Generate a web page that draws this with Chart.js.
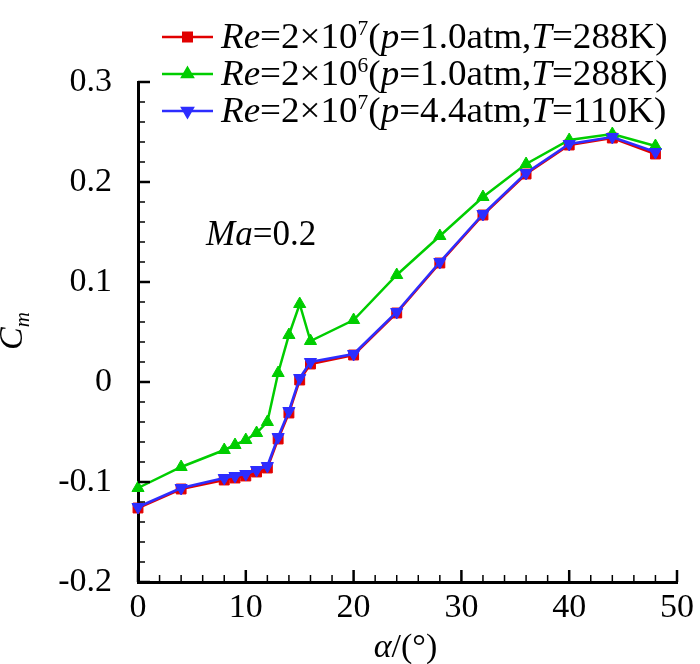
<!DOCTYPE html>
<html>
<head>
<meta charset="utf-8">
<script src="https://cdn.jsdelivr.net/npm/chart.js@4.4.1/dist/chart.umd.min.js"></script>
<style>
  html, body { margin: 0; padding: 0; background: #fff; }
  #wrap { width: 700px; height: 664px; }
</style>
</head>
<body>
<div id="wrap"><canvas id="cmCanvas" width="700" height="664"></canvas></div>
<script>
// angle of attack (deg)
const alphaDeg = [0, 4, 8, 9, 10, 11, 12, 13, 14, 15, 16, 20, 24, 28, 32, 36, 40, 44, 48];

// Cm, Re=2e7, p=1.0atm, T=288K (red)
const cmRe7Std = [-0.126, -0.107, -0.098, -0.096, -0.094, -0.090, -0.086, -0.057, -0.031, 0.002, 0.018,
  0.027, 0.069, 0.119, 0.167, 0.208, 0.237, 0.244, 0.228];
// Cm, Re=2e6, p=1.0atm, T=288K (green)
const cmRe6 = [-0.106, -0.085, -0.068, -0.063, -0.058, -0.051, -0.040, 0.009, 0.047, 0.078, 0.041,
  0.062, 0.107, 0.146, 0.185, 0.218, 0.242, 0.248, 0.236];
// Cm, Re=2e7, p=4.4atm, T=110K (blue)
const cmRe7Cryo = [-0.125, -0.106, -0.096, -0.094, -0.092, -0.088, -0.084, -0.055, -0.029, 0.004, 0.020,
  0.028, 0.070, 0.120, 0.168, 0.209, 0.238, 0.245, 0.230];

const xTickValues = [0, 10, 20, 30, 40, 50];
const yTickValues = [-0.2, -0.1, 0, 0.1, 0.2, 0.3];

// rich text pieces: [text, kind]  i = italic, n = normal, sup / isub = raised / lowered
const labelRe7Std = [["Re", "i"], ["=2×10", "n"], ["7", "sup"], ["(", "n"], ["p", "i"], ["=1.0atm,", "n"], ["T", "i"], ["=288K)", "n"]];
const labelRe6 = [["Re", "i"], ["=2×10", "n"], ["6", "sup"], ["(", "n"], ["p", "i"], ["=1.0atm,", "n"], ["T", "i"], ["=288K)", "n"]];
const labelRe7Cryo = [["Re", "i"], ["=2×10", "n"], ["7", "sup"], ["(", "n"], ["p", "i"], ["=4.4atm,", "n"], ["T", "i"], ["=110K)", "n"]];
const maLabel = [["Ma", "i"], ["=0.2", "n"]];
const xTitle = [["α", "i"], ["/(°)", "n"]];
const yTitle = [["C", "i"], ["m", "isub"]];

const FONT = "'Liberation Serif', 'Times New Roman', serif";
const RED = "rgb(225,0,0)";
const GREEN = "rgb(0,205,0)";
const BLUE = "rgb(45,45,255)";

const toPoints = (ys) => alphaDeg.map((a, i) => ({ x: a, y: ys[i] }));

// piirtää tekstin osista, palauttaa leveyden
const drawRich = (ctx, parts, x, y, size, dryRun) => {
  let cx = x;
  parts.forEach(([txt, kind]) => {
    let fs = size, dy = 0, style = "";
    if (kind === "i") style = "italic ";
    if (kind === "sup") { fs = size * 0.58; dy = -size * 0.36; }
    if (kind === "isub") { fs = size * 0.62; dy = size * 0.22; style = "italic "; }
    ctx.font = style + fs + "px " + FONT;
    if (!dryRun) ctx.fillText(txt, cx, y + dy);
    cx += ctx.measureText(txt).width;
  });
  return cx - x;
};

const legendRows = [
  { parts: labelRe7Std, color: RED, pointStyle: "rect", rotation: 0 },
  { parts: labelRe6, color: GREEN, pointStyle: "triangle", rotation: 0 },
  { parts: labelRe7Cryo, color: BLUE, pointStyle: "triangle", rotation: 180 },
];

const innerTicks = {
  id: "innerTicks",
  afterDraw(chart) {
    const ctx = chart.ctx;
    const xs = chart.scales.x;
    const ys = chart.scales.y;
    const area = chart.chartArea;
    ctx.save();
    ctx.strokeStyle = "#000";
    for (let v = 0; v <= 50; v += 2) {
      const major = v % 10 === 0;
      const px = xs.getPixelForValue(v);
      ctx.lineWidth = major ? 2.5 : 1.5;
      ctx.beginPath();
      ctx.moveTo(px, area.bottom);
      ctx.lineTo(px, area.bottom - (major ? 12 : 7));
      ctx.stroke();
    }
    for (let k = -10; k <= 15; k++) {
      const v = k * 0.02;
      const major = k % 5 === 0;
      const py = ys.getPixelForValue(v);
      ctx.lineWidth = major ? 2.5 : 1.5;
      ctx.beginPath();
      ctx.moveTo(area.left, py);
      ctx.lineTo(area.left + (major ? 12 : 7), py);
      ctx.stroke();
    }
    ctx.restore();
  },
};

const annotations = {
  id: "annotations",
  afterDraw(chart) {
    const ctx = chart.ctx;
    const area = chart.chartArea;
    ctx.save();
    ctx.fillStyle = "#000";
    ctx.textAlign = "left";
    ctx.textBaseline = "alphabetic";

    // selite
    legendRows.forEach((row, i) => {
      const y = 37 + i * 37;
      ctx.strokeStyle = row.color;
      ctx.fillStyle = row.color;
      ctx.lineWidth = 2.5;
      ctx.beginPath();
      ctx.moveTo(162, y);
      ctx.lineTo(213, y);
      ctx.stroke();
      Chart.helpers.drawPoint(ctx, { pointStyle: row.pointStyle, rotation: row.rotation, radius: 6, borderWidth: 1 }, 187.5, y);
      ctx.fillStyle = "#000";
      ctx.save();
      ctx.translate(221, y + 11);
      ctx.scale(1.03, 1);
      drawRich(ctx, row.parts, 0, 0, 36);
      ctx.restore();
    });

    drawRich(ctx, maLabel, 206, 245, 35);

    const w = drawRich(ctx, xTitle, 0, 0, 34, true);
    drawRich(ctx, xTitle, (area.left + area.right) / 2 - w / 2 - 2, 657, 34);

    ctx.translate(22, 350);
    ctx.rotate(-Math.PI / 2);
    drawRich(ctx, yTitle, 0, 0, 34);
    ctx.restore();
  },
};

const makeDataset = (label, ys, color, pointStyle, rotation, order) => ({
  label,
  data: toPoints(ys),
  borderColor: color,
  backgroundColor: color,
  pointBackgroundColor: color,
  pointBorderColor: color,
  borderWidth: 2.5,
  pointStyle,
  pointRotation: rotation,
  pointRadius: 7,
  pointBorderWidth: 1,
  tension: 0,
  clip: false,
  order,
});

const axisCommon = {
  type: "linear",
  grid: { display: false, drawTicks: false },
  border: { display: true, color: "#000", width: 3 },
};

new Chart(document.getElementById("cmCanvas"), {
  type: "line",
  data: {
    datasets: [
      makeDataset("Re=2e7 p=1.0atm T=288K", cmRe7Std, RED, "rect", 0, 2),
      makeDataset("Re=2e6 p=1.0atm T=288K", cmRe6, GREEN, "triangle", 0, 1),
      makeDataset("Re=2e7 p=4.4atm T=110K", cmRe7Cryo, BLUE, "triangle", 180, 0),
    ],
  },
  options: {
    responsive: false,
    animation: false,
    devicePixelRatio: 1,
    layout: { padding: { top: 82, right: 17, left: 0, bottom: 0 } },
    plugins: {
      legend: { display: false },
      tooltip: { enabled: false },
    },
    scales: {
      x: {
        ...axisCommon,
        min: 0,
        max: 50,
        afterBuildTicks: (s) => { s.ticks = xTickValues.map((v) => ({ value: v })); },
        afterFit: (s) => { s.height = 82; },
        ticks: {
          font: { family: FONT, size: 34 },
          color: "#000",
          padding: 6,
          maxRotation: 0,
          autoSkip: false,
          callback: (v) => String(v),
        },
      },
      y: {
        ...axisCommon,
        min: -0.2,
        max: 0.3,
        afterBuildTicks: (s) => { s.ticks = yTickValues.map((v) => ({ value: v })); },
        afterFit: (s) => { s.width = 138; },
        ticks: {
          font: { family: FONT, size: 34 },
          color: "#000",
          padding: 26,
          autoSkip: false,
          callback: (v) => String(Number(v.toFixed(1))),
        },
      },
    },
  },
  plugins: [innerTicks, annotations],
});
</script>
</body>
</html>
